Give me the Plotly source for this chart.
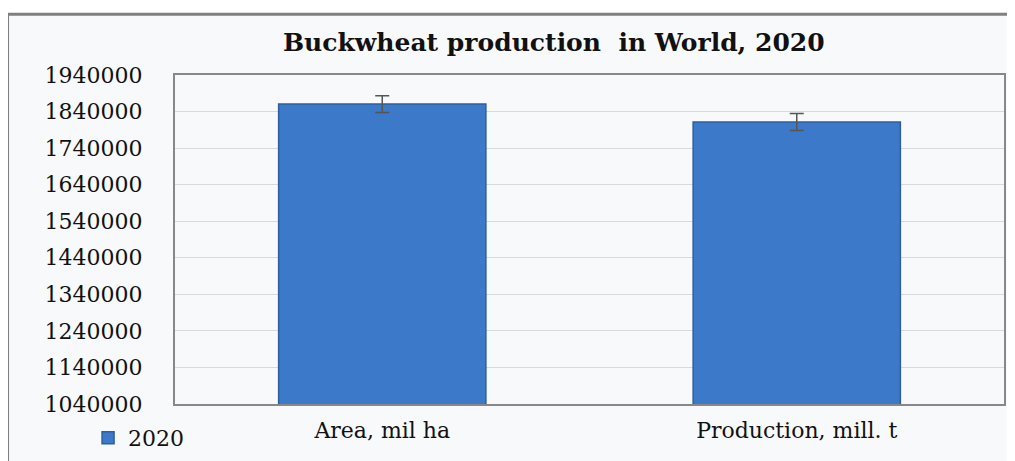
import plotly.graph_objects as go

categories = ["Area, mil ha", "Production, mill. t"]
values_2020 = [1860500, 1811500]
errors_2020 = [23000, 23000]
series_name = "2020"
title_text = "Buckwheat production  in World, 2020"
y_min, y_max, y_step = 1040000, 1940000, 100000

fig = go.Figure()
fig.add_trace(go.Bar(
    x=categories, y=values_2020, name=series_name,
    marker=dict(color="#3c79c9", line=dict(color="#2d5f9f", width=1.5)),
    error_y=dict(type="data", array=errors_2020, visible=True,
                 color="#555555", thickness=1.5, width=7),
    showlegend=True,
))

font_family = "DejaVu Serif"
fig.update_layout(
    width=1007, height=453,
    margin=dict(l=167, r=11, t=67, b=57, autoexpand=False),
    paper_bgcolor="white",
    plot_bgcolor="#f8f9fb",
    bargap=0.5,
    title=dict(text="<b>" + title_text + "</b>", x=0.542, xanchor="center",
               y=0.925, yanchor="middle",
               font=dict(family=font_family, size=25, color="#111111")),
    font=dict(family=font_family, size=22, color="#111111"),
    legend=dict(x=0.0795, y=0.097, xref="container", yref="container",
                xanchor="left", yanchor="top",
                bgcolor="rgba(0,0,0,0)", font=dict(size=22),
                itemwidth=30),
    shapes=[
        dict(type="rect", xref="paper", yref="paper", layer="below",
             x0=-0.202, x1=1.3, y0=-0.5, y1=1.185,
             fillcolor="#f8f9fb", line=dict(color="#7f7f7f", width=3)),
    ],
)
fig.update_yaxes(
    range=[y_min, y_max], dtick=y_step, tick0=y_min, tickformat="d",
    showgrid=True, gridcolor="#d9d9d9", gridwidth=1,
    showline=True, mirror=True, linecolor="#888888", linewidth=2,
    ticks="outside", ticklen=26, tickcolor="rgba(0,0,0,0)",
    zeroline=False, automargin=False,
    tickfont=dict(family=font_family, size=22, color="#111111"),
)
fig.update_xaxes(
    showline=True, mirror=True, linecolor="#888888", linewidth=2,
    ticks="outside", ticklen=6, tickcolor="rgba(0,0,0,0)", automargin=False,
    tickfont=dict(family=font_family, size=22, color="#111111"),
)

fig.write_html("out.html")
